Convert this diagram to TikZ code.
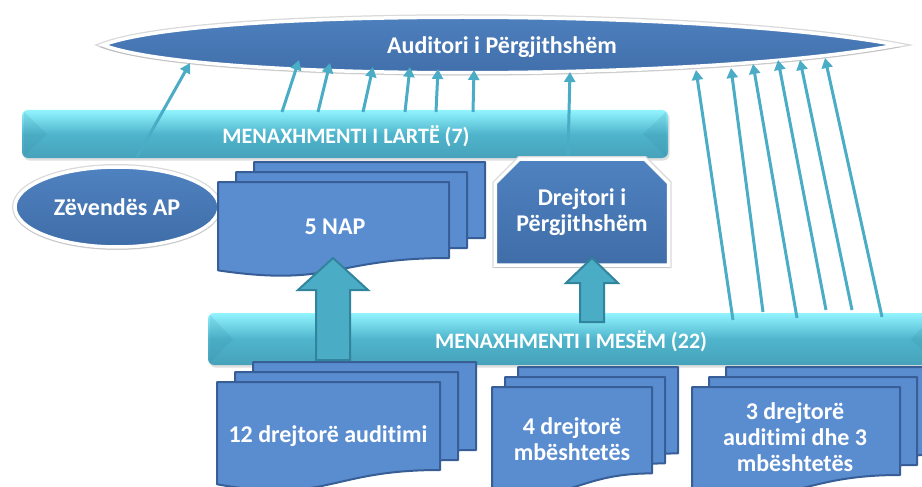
\documentclass[tikz,border=0pt]{standalone}
\usepackage{fontspec}
\setmainfont{Carlito}[Ligatures=NoCommon]
\usetikzlibrary{shapes.geometric,shapes.misc,arrows.meta,positioning,shadows}
\definecolor{ellblue}{HTML}{4F82C0}
\definecolor{ellbluedk}{HTML}{3F6DA8}
\definecolor{docblue}{HTML}{5A8DD0}
\definecolor{docdark}{HTML}{375E96}
\definecolor{bandtop}{HTML}{92F4FF}
\definecolor{bandmid}{HTML}{4FB5CC}
\definecolor{bandbot}{HTML}{46A2BA}
\definecolor{linkc}{HTML}{4BACC6}
\definecolor{fatdark}{HTML}{31849B}

\begin{document}
\begin{tikzpicture}
[x=1pt,y=-1pt,
 lbl/.style = {text = white, font = \bfseries\fontsize{24}{26}\selectfont, align = center},
 bandlbl/.style = {text = white, font = \bfseries\fontsize{22}{26}\selectfont},
 band/.style = {rounded corners = 6pt, top color = bandtop, bottom color = bandbot, middle color = bandmid, inner sep = 0,
   drop shadow = {opacity = 0.25, shadow xshift = 1.5pt, shadow yshift = -2.5pt}},
 bevel/.style = {fill = fatdark, opacity = 0.15},
 blob/.style = {draw = white, line width = 3.5pt, top color = ellblue, bottom color = ellbluedk,
   preaction = {draw = black!15, line width = 6pt},
   drop shadow = {opacity = 0.3, shadow xshift = 0pt, shadow yshift = -2pt, shadow scale = 1.01}},
 link/.style = {draw = linkc, line width = 3pt, -{Triangle[length=10pt,width=11pt]}},
 fat/.style = {draw = fatdark, line width = 2pt, fill = linkc, line join = miter},
 doc/.style = {draw = docdark, line width = 2pt, fill = docblue, line join = round},
 pics/multidoc/.style n args = {3}{code = {
   \foreach \i in {2,1,0}
   \path[doc, shift = {(#3*\i,-10*\i)}] (0,0) -- (#1,0) -- (#1,0.8*#2)
     .. controls (0.5*#1,0.8*#2) and (0.5*#1,1.11*#2) .. (0,0.93*#2) -- cycle;}},
]
\clip (0,0) rectangle (922,487);
% top of the chart
\path[blob] (103,45) .. controls (200,8) and (700,8) .. (897,45)
  .. controls (700,82) and (200,82) .. cycle;
\node (aud) at (502,47) [lbl] {Auditori i Përgjithshëm};
\node (larte) at (345,134) [band, minimum width = 646, minimum height = 48] {};
\fill[bevel] (24,112) -- (47,134) -- (24,156) -- cycle;
\fill[bevel] (666,112) -- (643,134) -- (666,156) -- cycle;
\node (larteT) at (346,136) [bandlbl] {MENAXHMENTI I LARTË (7)};
\node (zap) at (117,207) [blob, ellipse, minimum width = 204, minimum height = 80, lbl] {Zëvendës AP};
\pic at (218,182) {multidoc={231}{95}{18}};
\node (nap) at (335,227) [lbl] {5 NAP};
\node (dp) at (582,212) [blob, chamfered rectangle, chamfered rectangle corners = {north west, north east},
  chamfered rectangle xsep = 21pt, minimum width = 172, minimum height = 106, lbl, inner sep = 0] {Drejtori i\\Përgjithshëm};
% middle level
\node (mes) at (572,339) [band, minimum width = 728, minimum height = 52] {};
\fill[bevel] (210,315) -- (233,339) -- (210,363) -- cycle;
\fill[bevel] (934,315) -- (911,339) -- (934,363) -- cycle;
\node (mesT) at (571,341) [bandlbl] {MENAXHMENTI I MESËM (22)};
\pic at (217,382) {multidoc={223}{110}{18}};
\pic at (492,387) {multidoc={160}{108}{13}};
\pic at (692,387) {multidoc={208}{110}{17}};
\node (d12) at (328,436) [lbl] {12 drejtorë auditimi};
\node (d4) at (572,439) [lbl] {4 drejtorë\\mbështetës};
\node (d3) at (795,437) [lbl] {3 drejtorë\\auditimi dhe 3\\mbështetës};
% big arrows
\path[fat] (316,360) -- (316,290) -- (298,290) -- (333,258) -- (368,290) -- (350,290) -- (350,360) -- cycle;
\path[fat] (580,322) -- (580,283) -- (566,283) -- (592,258) -- (618,283) -- (604,283) -- (604,322) -- cycle;
% thin arrows
\foreach \n/\a/\b/\c/\d in {1/282/112/299/60, 2/318/112/330/63, 3/363/112/373/67, 4/405/112/410/67,
  5/436/112/438/69, 6/473/112/474/70, 7/568/155/570/72, 8/137/157/190/63,
  9/733/320/696/70, 10/763/312/731/68, 11/797/318/753/64, 12/826/310/778/60,
  13/852/310/800/60, 14/882/317/825/58}
  {\coordinate (s\n) at (\a,\b);
   \coordinate (e\n) at (\c,\d);
   \draw[link] (s\n) -- (e\n);}
\end{tikzpicture}
\end{document}
